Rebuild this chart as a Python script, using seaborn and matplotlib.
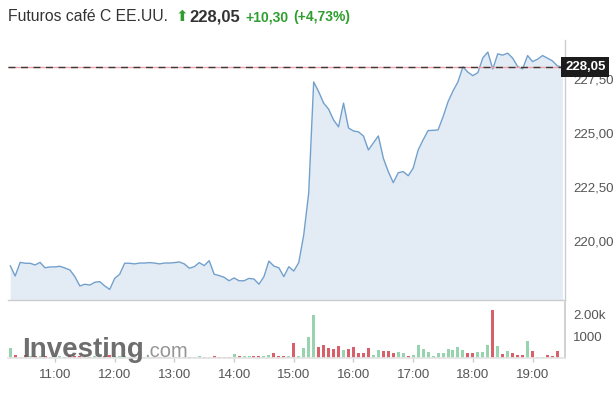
import numpy as np
import pandas as pd
import matplotlib
matplotlib.use("Agg")
import matplotlib.pyplot as plt
import seaborn as sns

# ---------------- data ----------------
times = pd.date_range("2024-01-01 10:15", periods=112, freq="5min")
price = [218.86, 218.38, 219.01, 218.97, 218.97, 218.89, 219.01, 218.76, 218.80, 218.80,
         218.83, 218.75, 218.66, 218.35, 217.92, 218.00, 217.96, 218.09, 218.12, 217.92,
         217.76, 218.27, 218.46, 218.97, 218.97, 218.94, 218.98, 218.98, 219.00, 218.98,
         218.94, 218.98, 218.98, 219.00, 219.03, 218.94, 218.74, 218.81, 219.00, 218.86,
         219.09, 218.46, 218.40, 218.32, 218.16, 218.29, 218.16, 218.16, 218.27, 218.24,
         218.00, 218.35, 219.07, 218.84, 218.76, 218.35, 218.81, 218.61, 219.00, 220.28,
         222.22, 227.36, 226.91, 226.38, 226.10, 225.60, 225.28, 226.38, 225.23, 225.09,
         225.05, 224.86, 224.21, 224.54, 224.86, 223.83, 223.21, 222.70, 223.16, 223.21,
         223.02, 223.37, 224.21, 224.68, 225.11, 225.12, 225.14, 225.74, 226.44, 226.94,
         227.36, 228.06, 227.81, 227.65, 227.79, 228.47, 228.74, 227.96, 228.66, 228.60,
         228.69, 228.46, 228.07, 227.96, 228.58, 228.30, 228.41, 228.58, 228.46, 228.33,
         228.10, 228.05]
volume = [450, 120, 60, 150, 100, 80, 90, 70, 60, 80,
          70, 60, 120, 90, 100, 60, 50, 70, 60, 80,
          130, 90, 70, 110, 60, 50, 60, 40, 50, 40,
          50, 40, 50, 60, 50, 60, 60, 40, 70, 60,
          50, 70, 60, 50, 60, 200, 70, 100, 100, 80,
          80, 110, 140, 250, 90, 80, 110,
          690, 75, 460, 966, 1960, 506, 600, 460, 414, 552,
          368, 430, 506, 230, 230, 460, 138, 368, 322, 322,
          230, 276, 230, 92, 138, 598, 414, 276, 92, 230,
          230, 414, 368, 506, 368, 230, 230, 276, 276, 598,
          2208, 552, 184, 322, 230, 138, 138, 797, 322, 46,
          46, 138, 92, 322]
tick_hours = [11, 12, 13, 14, 15, 16, 17, 18, 19]
tick_labels = ["11:00", "12:00", "13:00", "14:00", "15:00", "16:00", "17:00", "18:00", "19:00"]
price_ticks = [220.0, 222.5, 225.0, 227.5]
price_tick_labels = ["220,00", "222,50", "225,00", "227,50"]
vol_ticks = [1000, 2000]
vol_tick_labels = ["1000", "2.00k"]
last_price = 228.05
last_label = "228,05"
title = "Futuros café C EE.UU."
change = "+10,30"
change_pct = "(+4,73%)"

# ---------------- style ----------------
sns.set_theme(style="white")
plt.rcParams["font.family"] = ["Liberation Sans", "DejaVu Sans"]

LINE = "#72a0cc"
FILL = "#e3ecf5"
UP = "#98d3b0"
DOWN = "#d6616b"
TXT = "#555555"
GREEN_TXT = "#2f9e2f"

W, H = 616, 401
fig = plt.figure(figsize=(W / 100, H / 100), dpi=100)
fig.patch.set_facecolor("white")


def rect(x0, y0, x1, y1):
    return [x0 / W, 1 - y1 / H, (x1 - x0) / W, (y1 - y0) / H]


ax = fig.add_axes(rect(8, 40, 565, 300))
axv = fig.add_axes(rect(8, 302, 565, 358))

hours = np.asarray((times - times[0].normalize()) / pd.Timedelta(hours=1))
df = pd.DataFrame({"h": hours, "price": price})

ylo, yhi = 217.27, 229.30
ax.set_ylim(ylo, yhi)
ax.fill_between(df["h"], df["price"], ylo, color=FILL, lw=0, zorder=1)
sns.lineplot(data=df, x="h", y="price", ax=ax, color=LINE, lw=1.0, zorder=3)

# last price line
ax.axhline(last_price, color="#f0a0aa", lw=1.0, zorder=4)
ax.axhline(last_price, color="#3a3a3a", lw=1.0, dashes=(5, 4), zorder=5)
ax.text(1.0, last_price, last_label, transform=ax.get_yaxis_transform(),
        ha="left", va="center", color="white", fontweight="bold", fontsize=9.5,
        bbox=dict(boxstyle="square,pad=0.28", fc="#1c1c1c", ec="none"),
        clip_on=False, zorder=10)

xlo, xhi = 10.213, 19.543
ax.set_xlim(xlo, xhi)
ax.set_xlabel("")
ax.set_ylabel("")
ax.set_xticks([])
ax.yaxis.tick_right()
ax.set_yticks(price_ticks)
ax.set_yticklabels(price_tick_labels)
ax.tick_params(axis="y", length=0, pad=6, labelsize=9.5, labelcolor=TXT)
for s in ["top", "left"]:
    ax.spines[s].set_visible(False)
for s in ["right", "bottom"]:
    ax.spines[s].set_color("#cccccc")
    ax.spines[s].set_linewidth(1)

# volume
dv = pd.DataFrame({"h": hours[:len(volume)], "vol": volume})
dirs = ["up"]
for k in range(1, len(volume)):
    dirs.append("up" if price[k] >= price[k - 1] else "down")
dv["dir"] = dirs
sns.barplot(data=dv, x="h", y="vol", hue="dir", palette={"up": UP, "down": DOWN},
            native_scale=True, dodge=False, width=0.6, errorbar=None,
            legend=False, ax=axv, linewidth=0, saturation=1)
axv.set_xlim(xlo, xhi)
axv.set_ylim(0, 2576)
axv.set_xlabel("")
axv.set_ylabel("")
axv.yaxis.tick_right()
axv.set_yticks(vol_ticks)
axv.set_yticklabels(vol_tick_labels)
axv.set_xticks(tick_hours)
axv.set_xticklabels(tick_labels)
axv.tick_params(axis="y", length=0, pad=6, labelsize=9.5, labelcolor=TXT)
axv.tick_params(axis="x", length=3, width=1, color="#cccccc", pad=5,
                labelsize=9.5, labelcolor=TXT, bottom=True)
for s in ["top", "left"]:
    axv.spines[s].set_visible(False)
axv.spines["right"].set_color("#cccccc")
axv.spines["bottom"].set_color("#e4e4e4")

# watermark
wm = fig.text(22 / W, 1 - 357 / H, "Investing", fontsize=20, fontweight="bold",
              color="#5e5e5e", alpha=0.9, va="baseline", ha="left", zorder=20)
fig.canvas.draw()
bb = wm.get_window_extent(fig.canvas.get_renderer())
fig.text(bb.x1 / W, 1 - 357 / H, ".com", fontsize=14.5, color="#8a8a8a",
         alpha=0.9, va="baseline", ha="left", zorder=20)

# header
base = 1 - 21 / H
fig.text(8 / W, base, title, fontsize=11.3, color="#333333", va="baseline", ha="left")
fig.text(175 / W, base, "⬆", fontsize=11, color=GREEN_TXT, va="baseline", ha="left",
         family=["DejaVu Sans"])
fig.text(189 / W, base, last_label, fontsize=12, fontweight="bold", color="#333333",
         va="baseline", ha="left")
fig.text(245 / W, base, change, fontsize=10, fontweight="bold", color=GREEN_TXT,
         va="baseline", ha="left")
fig.text(293 / W, base, change_pct, fontsize=10, fontweight="bold", color=GREEN_TXT,
         va="baseline", ha="left")

fig.savefig("out.png", dpi=100)
